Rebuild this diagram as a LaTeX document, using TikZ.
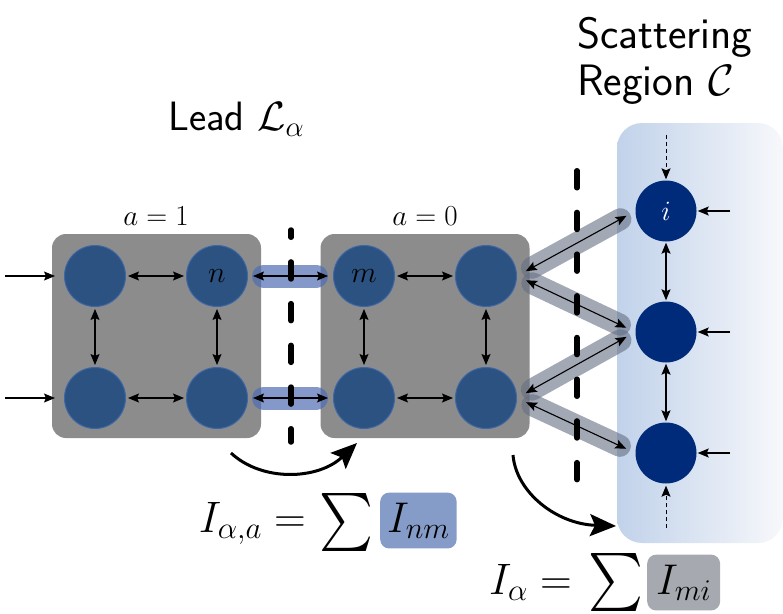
\RequirePackage{fix-cm}
\documentclass[tikz,border=0pt]{standalone}
\usepackage{amsmath}
\usepackage{graphicx}
\usepackage{fontspec}
\usetikzlibrary{arrows.meta,calc,backgrounds}
\definecolor{boxgray}{RGB}{140,140,140}
\definecolor{leadnode}{RGB}{44,82,130}
\definecolor{leadedge}{RGB}{62,104,165}
\definecolor{scatnode}{RGB}{0,43,122}
\definecolor{bluebarc}{RGB}{80,110,180}
\definecolor{graybarc}{RGB}{100,110,130}
\definecolor{nmboxc}{RGB}{133,155,200}
\definecolor{miboxc}{RGB}{166,169,176}
\definecolor{regleft}{RGB}{193,210,234}
\definecolor{regright}{RGB}{247,248,251}
\begin{document}
\begin{tikzpicture}[x=1pt,y=-1pt,
  sk/.tip={Stealth[length=11pt,width=9pt,inset=2pt]},
  bigsk/.tip={Stealth[length=26pt,width=22pt,inset=5pt]},
  leadbox/.style={fill=boxgray,rounded corners=14pt,minimum width=209pt,minimum height=204pt,inner sep=0pt},
  region/.style={left color=regleft,right color=regright,rounded corners=25pt,minimum width=166pt,minimum height=420pt,inner sep=0pt},
  site/.style={circle,fill=leadnode,draw=leadedge,line width=1pt,minimum size=61pt,inner sep=0pt,font=\fontsize{30}{30}\selectfont},
  scat/.style={circle,fill=scatnode,minimum size=61pt,inner sep=0pt,text=white,font=\fontsize{28}{28}\selectfont},
  hop/.style={sk-sk,line width=1.1pt},
  feed/.style={-sk,line width=1.1pt},
  dfeed/.style={-sk,line width=0.9pt,dash pattern=on 4pt off 3pt},
  bluebar/.style={line width=23pt,line cap=round,draw=bluebarc,draw opacity=0.7},
  graybar/.style={line width=22pt,line cap=round,draw=graybarc,draw opacity=0.6},
  cut/.style={line width=5.5pt,line cap=round,dash pattern=on 17pt off 24.7pt},
  flow/.style={-bigsk,line width=3pt},
  lab/.style={font=\fontsize{29}{29}\selectfont,inner sep=0pt},
  title/.style={font=\fontsize{44}{46}\sffamily\selectfont,inner sep=0pt},
  eq/.style={font=\fontsize{44}{48}\selectfont,inner sep=0pt},
  bigsum/.style={inner sep=0pt},
  eqbox/.style={font=\fontsize{43}{48}\selectfont,inner xsep=7pt,inner ysep=10pt,rounded corners=9pt},
]
\useasboundingbox (0,0) rectangle (783,613);

% lead sites
\node[site] (a1) at (95,276) {};
\node[site] (n)  at (217,276) {$n$};
\node[site] (a3) at (95,398) {};
\node[site] (a4) at (217,398) {};
\node[site] (m)  at (364,276) {$m$};
\node[site] (b2) at (486,276) {};
\node[site] (b3) at (364,398) {};
\node[site] (b4) at (486,398) {};
% scattering sites
\node[scat] (i)  at (666,211) {$i$};
\node[scat] (s2) at (666,332) {};
\node[scat] (s3) at (666,453) {};

\begin{pgfonlayer}{background}
  \node[leadbox] (box1) at (156.5,336) {};
  \node[leadbox] (box0) at (425,336) {};
  \node[region] (reg) at (700,333) {};
  \draw[bluebar] ($(n.east)+(15.5,0)$) -- ($(m.west)+(-16.5,0)$);
  \draw[bluebar] ($(a4.east)+(15.5,0)$) -- ($(b3.west)+(-16.5,0)$);
  \draw[graybar] ($(b2.east)!17pt!(i.west)$) -- ($(i.west)!17pt!(b2.east)$);
  \draw[graybar] ($(b2.east)!17pt!(s2.west)$) -- ($(s2.west)!17pt!(b2.east)$);
  \draw[graybar] ($(b4.east)!17pt!(s2.west)$) -- ($(s2.west)!17pt!(b4.east)$);
  \draw[graybar] ($(b4.east)!17pt!(s3.west)$) -- ($(s3.west)!17pt!(b4.east)$);
\end{pgfonlayer}

% hoppings inside leads
\draw[hop,shorten <=2pt,shorten >=2pt] (a1) -- (n);
\draw[hop,shorten <=2pt,shorten >=2pt] (a3) -- (a4);
\draw[hop,shorten <=2pt,shorten >=2pt] (a1) -- (a3);
\draw[hop,shorten <=2pt,shorten >=2pt] (n) -- (a4);
\draw[hop,shorten <=2pt,shorten >=2pt] (m) -- (b2);
\draw[hop,shorten <=2pt,shorten >=2pt] (b3) -- (b4);
\draw[hop,shorten <=2pt,shorten >=2pt] (m) -- (b3);
\draw[hop,shorten <=2pt,shorten >=2pt] (b2) -- (b4);
% between cells
\draw[hop,shorten <=5pt,shorten >=5pt] (n.east) -- (m.west);
\draw[hop,shorten <=5pt,shorten >=5pt] (a4.east) -- (b3.west);
% lead to scattering region
\draw[hop,shorten <=10pt,shorten >=10pt] (b2.east) -- (i.west);
\draw[hop,shorten <=10pt,shorten >=10pt] (b2.east) -- (s2.west);
\draw[hop,shorten <=10pt,shorten >=10pt] (b4.east) -- (s2.west);
\draw[hop,shorten <=10pt,shorten >=10pt] (b4.east) -- (s3.west);
% inside scattering region
\draw[hop,shorten <=1pt,shorten >=1pt] (i) -- (s2);
\draw[hop,shorten <=1pt,shorten >=1pt] (s2) -- (s3);

% external feeds
\coordinate (in1) at (5,276);
\coordinate (in3) at (5,398);
\draw[feed,shorten >=9pt] (in1) -- (a1.west);
\draw[feed,shorten >=9pt] (in3) -- (a3.west);
\coordinate (ri) at (730,211);
\coordinate (r2) at (730,332);
\coordinate (r3) at (730,453);
\draw[feed,shorten >=1pt] (ri) -- (i.east);
\draw[feed,shorten >=1pt] (r2) -- (s2.east);
\draw[feed,shorten >=1pt] (r3) -- (s3.east);
\coordinate (top) at (666,135);
\coordinate (bot) at (666,528);
\draw[dfeed,shorten >=1pt] (top) -- (i.north);
\draw[dfeed,shorten >=2pt] (bot) -- (s3.south);

% cuts
\draw[cut,dash phase=9.75pt] (291,230) -- (291,442);
\draw[cut] (577,170.75) -- (577,482);

% current flow arrows
\coordinate (c1s) at (231,453);
\coordinate (c1e) at (357,443);
\draw[flow] (c1s) .. controls (262,482) and (318,480) .. (c1e);
\coordinate (c2s) at (513,455);
\coordinate (c2e) at (616,526);
\draw[flow] (c2s) .. controls (516,492) and (556,524) .. (c2e);

% labels
\node[lab] (l1) at (156,216) {$a=1$};
\node[lab] (l0) at (425,216) {$a=0$};
\node[title,anchor=base west,font=\fontsize{41}{44}\sffamily\selectfont] (lead) at (168,130) {Lead $\mathcal{L}_\alpha$};
\node[title,anchor=base west] (sc1) at (577,48) {Scattering};
\node[title,anchor=base west] (sc2) at (577,95) {Region $\mathcal{C}$};

% formulas
\node[eq,anchor=base east] (f1) at (306,532) {$I_{\alpha,a} =$};
\node[bigsum] (sum1) at (346,522) {\resizebox*{54pt}{58pt}{$\textstyle\sum$}};
\node[eqbox,fill=nmboxc,anchor=base west] (nm) at (380,532) {$I_{nm}$};
\node[eq,anchor=base east] (f2) at (572,594) {$I_{\alpha} =$};
\node[bigsum] (sum2) at (615.5,582.5) {\resizebox*{55pt}{58pt}{$\textstyle\sum$}};
\node[eqbox,fill=miboxc,anchor=base west,inner xsep=9pt] (mi) at (647,594) {$I_{mi}$};
\end{tikzpicture}
\end{document}
